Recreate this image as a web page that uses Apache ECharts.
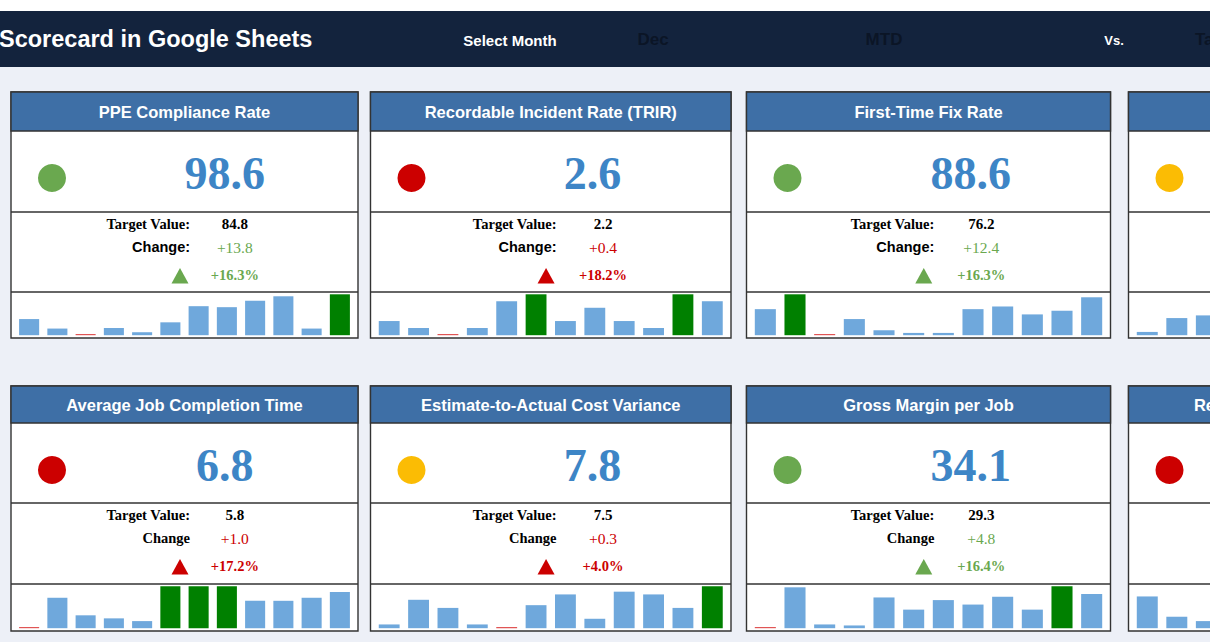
<!DOCTYPE html>
<html><head><meta charset="utf-8">
<script src="https://cdn.jsdelivr.net/npm/echarts@6/dist/echarts.min.js"></script>
<style>html,body{margin:0;padding:0;background:#edf0f7;overflow:hidden;}#c{width:1500px;height:642px;}</style>
</head><body><div id="c"></div>
<script>
// ---------- data ----------
const headerTitle = 'Scorecard in Google Sheets';
const selectLabel = 'Select Month';
const selectedMonth = 'Dec';
const periodLabel = 'MTD';
const vsLabel = 'Vs.';
const compareLabel = 'Target';

const kpiTitles = ['PPE Compliance Rate', 'Recordable Incident Rate (TRIR)', 'First-Time Fix Rate', '',
  'Average Job Completion Time', 'Estimate-to-Actual Cost Variance', 'Gross Margin per Job', 'Revenue per Field Technician'];
const kpiValues = ['98.6', '2.6', '88.6', '', '6.8', '7.8', '34.1', ''];
const targetValues = ['84.8', '2.2', '76.2', '', '5.8', '7.5', '29.3', ''];
const changeLabels = ['Change:', 'Change:', 'Change:', '', 'Change', 'Change', 'Change', ''];
const changeValues = ['+13.8', '+0.4', '+12.4', '', '+1.0', '+0.3', '+4.8', ''];
const changePercents = ['+16.3%', '+18.2%', '+16.3%', '', '+17.2%', '+4.0%', '+16.4%', ''];
const statusFlags = ['good', 'bad', 'good', 'warn', 'bad', 'warn', 'good', 'bad'];
const trendFlags = ['good', 'bad', 'good', null, 'bad', 'bad', 'good', null];

const months = ['Jan', 'Feb', 'Mar', 'Apr', 'May', 'Jun', 'Jul', 'Aug', 'Sep', 'Oct', 'Nov', 'Dec'];
const sparkPPE   = [16.3, 6.7, 1.2, 7.3, 3.0, 13.0, 29.3, 28.3, 34.7, 39.3, 6.7, 41.3];
const sparkTRIR  = [14.3, 7.3, 1.2, 7.3, 34.3, 41.3, 14.3, 27.7, 14.3, 7.3, 41.3, 34.3];
const sparkFix   = [26.3, 41.3, 1.2, 16.3, 5.0, 2.3, 2.3, 26.3, 29.0, 21.0, 24.7, 38.3];
const sparkCSAT  = [3.3, 17.3, 20.0, null, null, null, null, null, null, null, null, null];
const sparkJob   = [1.2, 30.0, 12.7, 9.7, 7.0, 41.3, 41.3, 41.3, 27.0, 27.0, 30.0, 35.7];
const sparkCost  = [3.7, 28.0, 20.0, 3.7, 1.2, 22.7, 33.3, 9.3, 36.0, 33.3, 20.0, 41.3];
const sparkGM    = [1.2, 40.3, 3.7, 2.7, 30.3, 18.3, 27.7, 23.3, 31.0, 18.3, 41.3, 33.7];
const sparkRev   = [31.3, 11.3, 7.0, null, null, null, null, null, null, null, null, null];
const sparkSets = [sparkPPE, sparkTRIR, sparkFix, sparkCSAT, sparkJob, sparkCost, sparkGM, sparkRev];

// ---------- layout & style ----------
const SANS = '"Liberation Sans", Arial, sans-serif';
const SERIF = '"Liberation Serif", "Times New Roman", serif';
const flagColor = { good: '#6aa84f', bad: '#cc0000', warn: '#fbbc04' };
const cols = [[11, 358], [370.5, 731], [746.5, 1110.5], [1128.5, 1491]];
const rows = [
  { top: 92, hb: 131, l1: 212, l2: 292, bottom: 338 },
  { top: 386, hb: 423, l1: 503, l2: 584, bottom: 631 }
];
const allVals = sparkSets.flat().filter(v => v != null);
const sparkMax = Math.max(...allVals);
const sparkMin = Math.min(...allVals);

const g = [];
g.push({ type: 'rect', z: 0, shape: { x: 0, y: 0, width: 1500, height: 11 }, style: { fill: '#ffffff' } });
g.push({ type: 'rect', z: 0, shape: { x: 0, y: 11, width: 1500, height: 56 }, style: { fill: '#13233d' } });
function txt(x, y, text, font, fill, align) {
  if (!text) return;
  g.push({ type: 'text', z: 3, x: x, y: y,
    style: { text: text, font: font, fill: fill, align: align || 'center', verticalAlign: 'middle' } });
}
txt(-1, 39, headerTitle, 'bold 23.5px ' + SANS, '#ffffff', 'left');
txt(510, 40, selectLabel, 'bold 15px ' + SANS, '#ffffff');
txt(653, 39, selectedMonth, 'bold 17px ' + SANS, '#0b1526');
txt(884, 39, periodLabel, 'bold 17px ' + SANS, '#0b1526');
txt(1114, 40, vsLabel, 'bold 13px ' + SANS, '#ffffff');
txt(1195, 39, compareLabel, 'bold 17px ' + SANS, '#0b1526', 'left');

const grids = [], xAxes = [], yAxes = [], series = [];
for (let i = 0; i < 8; i++) {
  const r = rows[Math.floor(i / 4)];
  const [L, R] = cols[i % 4];
  const W = R - L;
  const border = '#333333';
  g.push({ type: 'rect', z: 0, shape: { x: L, y: r.top, width: W, height: r.bottom - r.top },
    style: { fill: '#ffffff', stroke: border, lineWidth: 1.4 } });
  g.push({ type: 'rect', z: 1, shape: { x: L, y: r.top, width: W, height: r.hb - r.top },
    style: { fill: '#3e6fa6', stroke: border, lineWidth: 1.4 } });
  g.push({ type: 'line', z: 1, shape: { x1: L, y1: r.l1, x2: R, y2: r.l1 }, style: { stroke: border, lineWidth: 1.4 } });
  g.push({ type: 'line', z: 1, shape: { x1: L, y1: r.l2, x2: R, y2: r.l2 }, style: { stroke: border, lineWidth: 1.4 } });
  txt(L + W / 2, (r.top + r.hb) / 2 + 0.5, kpiTitles[i], 'bold 16.5px ' + SANS, '#ffffff');
  g.push({ type: 'circle', z: 2, shape: { cx: L + 41, cy: r.hb + 47, r: 14 }, style: { fill: flagColor[statusFlags[i]] } });
  if (kpiValues[i]) {
    const tc = flagColor[trendFlags[i]];
    txt(L + 0.616 * W, r.hb + 42, kpiValues[i], 'bold 46px ' + SERIF, '#3d85c6');
    txt(L + 0.516 * W, r.l1 + 12, 'Target Value:', 'bold 14.5px ' + SERIF, '#000000', 'right');
    txt(L + 0.645 * W, r.l1 + 12, targetValues[i], 'bold 15px ' + SERIF, '#000000');
    const lf = changeLabels[i].indexOf(':') >= 0 ? 'bold 14.5px ' + SANS : 'bold 14.5px ' + SERIF;
    txt(L + 0.516 * W, r.l1 + 35, changeLabels[i], lf, '#000000', 'right');
    txt(L + 0.645 * W, r.l1 + 35, changeValues[i], '15.5px ' + SERIF, tc);
    const tx = L + 0.487 * W, ty = r.l1 + 64;
    g.push({ type: 'polygon', z: 2, shape: { points: [[tx, ty - 8], [tx + 8.5, ty + 7.5], [tx - 8.5, ty + 7.5]] }, style: { fill: tc } });
    txt(L + 0.645 * W, r.l1 + 63, changePercents[i], 'bold 14.5px ' + SERIF, tc);
  }
  const gt = r.l2 + 2.3, gb = r.bottom - 2.8;
  grids.push({ left: L + 4, top: gt, width: W - 8, height: gb - gt, containLabel: false });
  xAxes.push({ type: 'category', gridIndex: i, data: months, show: false });
  yAxes.push({ type: 'value', gridIndex: i, min: 0, max: sparkMax, show: false });
  series.push({
    type: 'bar', xAxisIndex: i, yAxisIndex: i, z: 5, data: sparkSets[i], barCategoryGap: '29%',
    silent: true, animation: false,
    itemStyle: { color: p => p.value >= sparkMax ? '#008000' : (p.value <= sparkMin ? '#e05555' : '#6fa8dc') }
  });
}

const chart = echarts.init(document.getElementById('c'), null, { renderer: 'svg' });
chart.setOption({
  backgroundColor: '#edf0f7',
  animation: false,
  graphic: { elements: g },
  grid: grids, xAxis: xAxes, yAxis: yAxes, series: series
});
</script></body></html>
